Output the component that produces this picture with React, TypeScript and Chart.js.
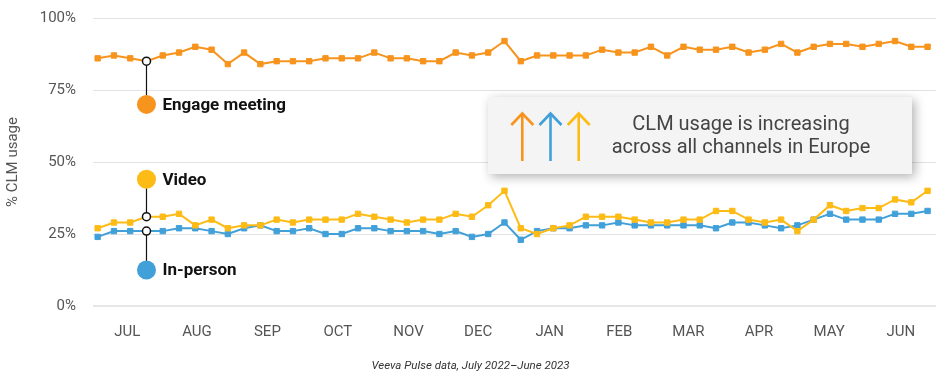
import React, { useEffect, useRef } from "react";
import { Chart, registerables } from "chart.js";

Chart.register(...registerables);

// ---- data ----
const weekIndex: number[] = Array.from({ length: 52 }, (_, i) => i);

const engageMeeting: number[] = [
  86, 87, 86, 85, 87, 88, 90, 89, 84, 88, 84, 85, 85, 85,
  86, 86, 86, 88, 86, 86, 85, 85, 88, 87, 88, 92, 85, 87, 87, 87, 87, 89,
  88, 88, 90, 87, 90, 89, 89, 90, 88, 89, 91, 88, 90, 91, 91, 90, 91, 92, 90, 90,
];

const video: number[] = [
  27, 29, 29, 31, 31, 32, 28, 30, 27, 28, 28, 30, 29, 30,
  30, 30, 32, 31, 30, 29, 30, 30, 32, 31, 35, 40, 27, 25, 27, 28, 31, 31,
  31, 30, 29, 29, 30, 30, 33, 33, 30, 29, 30, 26, 30, 35, 33, 34, 34, 37, 36, 40,
];

const inPerson: number[] = [
  24, 26, 26, 26, 26, 27, 27, 26, 25, 27, 28, 26, 26, 27,
  25, 25, 27, 27, 26, 26, 26, 25, 26, 24, 25, 29, 23, 26, 27, 27, 28, 28,
  29, 28, 28, 28, 28, 28, 27, 29, 29, 28, 27, 28, 30, 32, 30, 30, 30, 32, 32, 33,
];

const monthLabels: string[] = ["JUL", "AUG", "SEP", "OCT", "NOV", "DEC", "JAN", "FEB", "MAR", "APR", "MAY", "JUN"];
// month label positions in week-index units (mid-month)
const monthPositions: number[] = [1.82, 6.1, 10.43, 14.76, 19.1, 23.38, 27.78, 32.05, 36.3, 40.64, 44.95, 49.36];

const yTicks: number[] = [0, 25, 50, 75, 100];

const seriesNames: string[] = ["Engage meeting", "Video", "In-person"];
const calloutIndex = 3;
const calloutLabelValues: number[] = [70, 44, 12.5];

const boxLines: string[] = ["CLM usage is increasing", "across all channels in Europe"];
const caption = "Veeva Pulse data, July 2022\u2013June 2023";

const ORANGE = "#F7941E";
const YELLOW = "#FDBB16";
const BLUE = "#42A0D9";
const colors = [ORANGE, YELLOW, BLUE];
const arrowColors = [ORANGE, BLUE, YELLOW];

const FONT = "Roboto";

const annotationPlugin = {
  id: "callouts",
  afterDatasetsDraw(chart: any) {
    const ctx = chart.ctx;
    const xs = chart.scales.x;
    const ys = chart.scales.y;
    const x = xs.getPixelForValue(calloutIndex);
    const series = [engageMeeting, video, inPerson];
    ctx.save();
    series.forEach((s, i) => {
      const yd = ys.getPixelForValue(s[calloutIndex]);
      const yl = ys.getPixelForValue(calloutLabelValues[i]);
      ctx.beginPath();
      ctx.strokeStyle = "#111";
      ctx.lineWidth = 1.2;
      ctx.moveTo(x, yd);
      ctx.lineTo(x, yl);
      ctx.stroke();
    });
    series.forEach((s, i) => {
      const yd = ys.getPixelForValue(s[calloutIndex]);
      const yl = ys.getPixelForValue(calloutLabelValues[i]);
      ctx.beginPath();
      ctx.arc(x, yd, 4, 0, Math.PI * 2);
      ctx.fillStyle = "#fff";
      ctx.fill();
      ctx.lineWidth = 1.5;
      ctx.strokeStyle = "#111";
      ctx.stroke();
      ctx.beginPath();
      ctx.arc(x, yl, 9.5, 0, Math.PI * 2);
      ctx.fillStyle = colors[i];
      ctx.fill();
      ctx.fillStyle = "#111";
      ctx.font = `bold 17px ${FONT}`;
      ctx.textAlign = "left";
      ctx.textBaseline = "middle";
      ctx.fillText(seriesNames[i], x + 16, yl + 1);
    });
    ctx.restore();
  },
  afterDraw(chart: any) {
    const ctx = chart.ctx;
    ctx.save();
    const bx = 488, by = 97, bw = 424, bh = 77;
    ctx.shadowColor = "rgba(0,0,0,0.3)";
    ctx.shadowBlur = 10;
    ctx.shadowOffsetX = 3;
    ctx.shadowOffsetY = 3;
    ctx.fillStyle = "#F4F4F4";
    ctx.fillRect(bx, by, bw, bh);
    ctx.shadowColor = "transparent";
    ctx.shadowBlur = 0;
    ctx.shadowOffsetX = 0;
    ctx.shadowOffsetY = 0;
    const arrowXs = [522.3, 550.5, 578.7];
    arrowColors.forEach((c, i) => {
      const ax = arrowXs[i];
      ctx.strokeStyle = c;
      ctx.lineWidth = 2.6;
      ctx.lineCap = "butt";
      ctx.beginPath();
      ctx.moveTo(ax, 161);
      ctx.lineTo(ax, 113.5);
      ctx.stroke();
      ctx.beginPath();
      ctx.moveTo(ax - 11, 125);
      ctx.lineTo(ax, 113.5);
      ctx.lineTo(ax + 11, 125);
      ctx.stroke();
    });
    ctx.fillStyle = "#444";
    ctx.font = `20px ${FONT}`;
    ctx.textAlign = "center";
    ctx.textBaseline = "middle";
    ctx.fillText(boxLines[0], 741, 125);
    ctx.fillText(boxLines[1], 741, 147.5);
    ctx.fillStyle = "#333";
    ctx.font = `italic 11.5px ${FONT}`;
    ctx.fillText(caption, 470.5, 366);
    ctx.restore();
  },
};

export default function App() {
  const canvasRef = useRef<HTMLCanvasElement | null>(null);

  useEffect(() => {
    document.body.style.margin = "0";
    const canvas = canvasRef.current;
    if (!canvas) return;
    const mk = (label: string, data: number[], color: string) => ({
      label,
      data: data.map((v, i) => ({ x: weekIndex[i], y: v })),
      borderColor: color,
      backgroundColor: color,
      borderWidth: 2,
      pointStyle: "rect",
      pointRadius: 3.8,
      pointBorderWidth: 1,
      pointHoverRadius: 3.8,
      tension: 0,
    });
    const chart = new Chart(canvas, {
      type: "line",
      data: {
        datasets: [
          mk(seriesNames[0], engageMeeting, ORANGE),
          mk(seriesNames[1], video, YELLOW),
          mk(seriesNames[2], inPerson, BLUE),
        ],
      },
      options: {
        animation: false,
        responsive: false,
        maintainAspectRatio: false,
        layout: { padding: { top: 18, left: 0, right: 0, bottom: 0 } },
        plugins: {
          legend: { display: false },
          tooltip: { enabled: false },
        },
        scales: {
          x: {
            type: "linear",
            min: -0.287,
            max: 51.53,
            grid: { display: false, drawTicks: false },
            border: { display: false },
            afterBuildTicks: (scale: any) => {
              scale.ticks = monthPositions.map((v) => ({ value: v }));
            },
            afterFit: (scale: any) => {
              scale.height = 76;
              scale.paddingLeft = 0;
              scale.paddingRight = 0;
            },
            ticks: {
              autoSkip: false,
              maxRotation: 0,
              padding: 17,
              color: "#555",
              font: { family: FONT, size: 15 },
              callback: (v: any) => {
                const idx = monthPositions.findIndex((p) => Math.abs(p - Number(v)) < 1e-6);
                return idx >= 0 ? monthLabels[idx] : "";
              },
            },
          },
          y: {
            min: 0,
            max: 100,
            afterBuildTicks: (scale: any) => {
              scale.ticks = yTicks.map((v) => ({ value: v }));
            },
            afterFit: (scale: any) => {
              scale.width = 93;
              scale.paddingTop = 0;
              scale.paddingBottom = 0;
            },
            grid: {
              drawTicks: false,
              color: (c: any) => (c.tick && c.tick.value === 0 ? "#E6E6E6" : "#E2E2E2"),
              lineWidth: (c: any) => (c.tick && c.tick.value === 0 ? 2 : 1),
            },
            border: { display: false },
            ticks: {
              padding: 17,
              color: "#555",
              font: { family: FONT, size: 15 },
              callback: (v: any) => `${v}%`,
            },
            title: {
              display: true,
              text: "% CLM usage",
              color: "#555",
              font: { family: FONT, size: 15 },
            },
          },
        },
      },
      plugins: [annotationPlugin],
    } as any);
    return () => chart.destroy();
  }, []);

  return (
    <div style={{ width: 941, height: 382, background: "#fff" }}>
      <canvas ref={canvasRef} width={941} height={382} style={{ display: "block" }} />
    </div>
  );
}
